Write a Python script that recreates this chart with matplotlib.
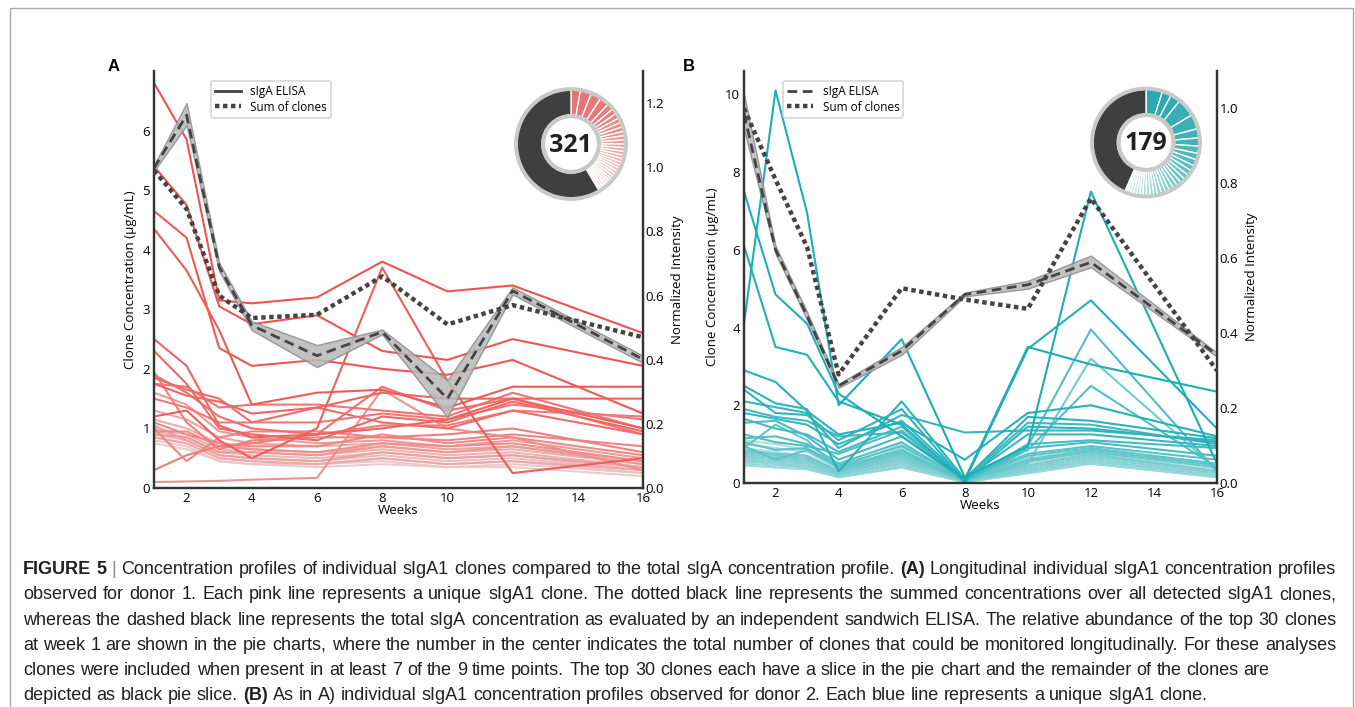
import numpy as np
import matplotlib
matplotlib.use('Agg')
import matplotlib.pyplot as plt
from matplotlib.lines import Line2D
from matplotlib.patches import Circle, Rectangle
from matplotlib.colors import to_rgb
from matplotlib.transforms import IdentityTransform

plt.rcParams['font.family'] = ['Open Sans', 'DejaVu Sans']

weeks = [1, 2, 3, 4, 6, 8, 10, 12, 16]

# ---- donor 1 (A) ----
elisa_a = [5.37, 6.26, 3.71, 2.73, 2.22, 2.62, 1.50, 3.31, 2.16]
elisa_a_lo = [5.32, 6.09, 3.64, 2.65, 2.03, 2.58, 1.19, 3.25, 2.10]
elisa_a_hi = [5.42, 6.46, 3.78, 2.80, 2.40, 2.66, 1.81, 3.37, 2.22]
sum_a = [0.99, 0.87, 0.60, 0.53, 0.54, 0.66, 0.51, 0.57, 0.47]   # normalized intensity
clones_a = [
    [6.8, 5.85, 3.15, 3.1, 3.2, 3.8, 3.3, 3.4, 2.6],
    [5.4, 4.75, 3.05, 2.75, 2.9, 2.3, 2.15, 2.5, 2.05],
    [4.65, 4.2, 2.35, 2.05, 2.15, 2.0, 1.9, 2.15, 1.25],
    [4.35, 3.65, 2.65, 1.4, 1.6, 1.65, 1.35, 1.7, 1.7],
    [1.2, 1.3, 0.8, 0.5, 1.0, 3.7, 1.8, 0.25, 0.5],
    [2.5, 2.05, 1.05, 0.85, 0.9, 1.0, 1.15, 1.5, 1.0],
    [1.75, 1.55, 1.45, 1.25, 1.35, 1.6, 1.5, 1.5, 1.5],
    [2.3, 1.75, 1.0, 0.9, 0.8, 1.2, 1.1, 1.45, 0.95],
    [1.85, 1.65, 1.5, 1.1, 1.35, 1.1, 1.0, 1.3, 0.9],
    [1.9, 1.6, 1.2, 1.0, 0.9, 1.7, 1.3, 1.5, 0.9],
    [1.75, 1.7, 1.35, 1.4, 1.4, 1.3, 1.2, 1.6, 1.0],
    [1.5, 1.35, 1.1, 1.1, 1.1, 1.25, 1.15, 1.4, 1.15],
    [0.3, 0.55, 0.7, 0.75, 0.9, 1.05, 1.05, 1.3, 1.2],
    [1.95, 1.1, 0.65, 0.8, 0.85, 0.85, 0.9, 1.0, 0.6],
    [1.0, 0.45, 0.85, 0.95, 0.95, 0.85, 0.8, 0.9, 0.7],
    [1.1, 0.9, 0.75, 0.7, 0.7, 0.9, 0.75, 0.85, 0.55],
    [0.95, 0.95, 0.7, 0.65, 0.6, 0.75, 0.7, 0.75, 0.45],
    [0.1, 0.11, 0.12, 0.14, 0.17, 1.65, 1.0, 0.85, 0.3],
    [0.9, 0.85, 0.6, 0.6, 0.55, 0.7, 0.6, 0.7, 0.4],
    [1.6, 1.4, 0.95, 0.85, 0.75, 0.8, 0.7, 0.8, 0.5],
    [1.05, 0.8, 0.55, 0.5, 0.45, 0.6, 0.5, 0.55, 0.35],
    [1.3, 1.15, 0.85, 0.75, 0.7, 0.75, 0.65, 0.7, 0.45],
    [0.85, 0.75, 0.5, 0.45, 0.4, 0.5, 0.4, 0.45, 0.3],
    [1.15, 1.0, 0.75, 0.65, 0.6, 0.7, 0.6, 0.65, 0.4],
    [1.0, 0.9, 0.65, 0.6, 0.55, 0.65, 0.55, 0.6, 0.35],
    [0.95, 0.85, 0.6, 0.55, 0.5, 0.6, 0.5, 0.55, 0.3],
    [0.9, 0.8, 0.55, 0.5, 0.45, 0.55, 0.45, 0.5, 0.3],
    [0.85, 0.75, 0.5, 0.45, 0.4, 0.5, 0.4, 0.45, 0.25],
    [0.8, 0.7, 0.45, 0.4, 0.4, 0.45, 0.35, 0.4, 0.25],
    [0.75, 0.65, 0.45, 0.4, 0.35, 0.4, 0.35, 0.35, 0.2],
]
pie_a = [10, 12, 11, 10, 7, 6, 5.5, 5, 5, 5, 4.5, 4.5, 4.5, 4, 4, 4, 4, 4,
         3.5, 3.5, 3.5, 3.5, 3.5, 3.5, 3, 3, 3, 3, 3, 3]
pie_a_rest = 211
n_clones_a = '321'

# ---- donor 2 (B) ----
elisa_b = [9.5, 6.0, 4.3, 2.5, 3.4, 4.85, 5.1, 5.68, 3.3]
elisa_b_lo = [9.1, 5.9, 4.2, 2.45, 3.3, 4.8, 5.0, 5.55, 3.25]
elisa_b_hi = [10.0, 6.1, 4.4, 2.55, 3.5, 4.9, 5.2, 5.85, 3.35]
sum_b = [1.0, 0.81, 0.63, 0.29, 0.52, 0.49, 0.465, 0.76, 0.30]
clones_b = [
    [4.1, 10.1, 6.95, 2.0, 3.7, 0.15, 0.95, 7.5, 0.5],
    [7.5, 4.85, 4.1, 2.3, 1.2, 0.1, 3.5, 3.05, 2.35],
    [6.1, 3.5, 3.3, 2.1, 1.5, 0.05, 3.45, 4.7, 1.4],
    [2.9, 2.6, 1.85, 1.25, 1.55, 0.6, 1.8, 2.0, 1.2],
    [2.5, 2.05, 1.9, 0.3, 2.1, 0.1, 1.7, 1.6, 1.15],
    [2.4, 1.8, 1.75, 1.1, 1.9, 0.05, 1.45, 1.4, 1.05],
    [2.1, 1.95, 1.8, 0.9, 1.75, 1.3, 1.35, 1.35, 1.1],
    [1.8, 1.65, 1.5, 1.0, 1.6, 0.1, 1.25, 1.25, 0.95],
    [1.9, 1.7, 1.6, 1.2, 1.3, 0.1, 1.55, 1.5, 1.0],
    [1.65, 1.4, 1.25, 0.8, 1.45, 0.05, 1.0, 1.1, 0.9],
    [1.55, 1.6, 1.2, 0.6, 1.2, 0.05, 0.9, 1.05, 0.7],
    [1.25, 1.05, 0.95, 0.75, 1.35, 0.1, 0.95, 3.95, 0.3],
    [1.15, 1.2, 1.0, 0.5, 1.05, 0.05, 0.85, 2.5, 0.4],
    [1.05, 0.85, 0.9, 0.45, 0.95, 0.1, 0.75, 0.95, 0.6],
    [0.95, 0.6, 0.85, 0.4, 0.85, 0.05, 0.7, 0.9, 0.5],
    [0.9, 1.5, 1.1, 0.35, 0.8, 0.05, 0.6, 0.85, 0.45],
    [0.85, 0.75, 0.7, 0.3, 0.75, 0.05, 0.55, 0.8, 0.4],
    [0.8, 0.7, 0.65, 0.3, 0.7, 0.05, 0.5, 3.2, 0.35],
    [0.75, 0.65, 0.6, 0.25, 0.65, 0.05, 0.45, 0.75, 0.3],
    [0.7, 0.6, 0.55, 0.25, 0.6, 0.04, 0.4, 0.7, 0.3],
    [0.65, 0.55, 0.5, 0.2, 0.55, 0.04, 0.35, 0.65, 0.25],
    [0.6, 0.5, 0.45, 0.2, 0.5, 0.03, 0.3, 0.6, 0.2],
    [0.55, 0.5, 0.4, 0.15, 0.45, 0.03, 0.3, 0.55, 0.2],
    [0.5, 0.45, 0.4, 0.15, 0.4, 0.03, 0.25, 0.5, 0.15],
    [0.45, 0.4, 0.35, 0.15, 0.4, 0.02, 0.25, 0.5, 0.15],
    [1.0, 0.9, 0.8, 0.35, 0.9, 0.05, 0.6, 0.8, 0.45],
    [1.1, 1.0, 0.85, 0.4, 1.0, 0.05, 0.65, 0.85, 0.5],
    [0.9, 0.8, 0.7, 0.3, 0.8, 0.04, 0.5, 0.75, 0.35],
]
pie_b = [18, 10, 11, 20, 16, 10, 9, 8, 7, 7, 6, 6, 5.5, 5.5, 5, 5, 5,
         4.5, 4.5, 4.5, 4, 4, 4, 4, 3.5, 3.5, 3.5, 3.5, 3, 3]
pie_b_rest = 156.5
n_clones_b = '179'

# words starting with * are bold
caption = [
    "*FIGURE *5 | Concentration profiles of individual sIgA1 clones compared to the total sIgA concentration profile. *(A) Longitudinal individual sIgA1 concentration profiles",
    "observed for donor 1. Each pink line represents a unique sIgA1 clone. The dotted black line represents the summed concentrations over all detected sIgA1 clones,",
    "whereas the dashed black line represents the total sIgA concentration as evaluated by an independent sandwich ELISA. The relative abundance of the top 30 clones",
    "at week 1 are shown in the pie charts, where the number in the center indicates the total number of clones that could be monitored longitudinally. For these analyses",
    "clones were included when present in at least 7 of the 9 time points. The top 30 clones each have a slice in the pie chart and the remainder of the clones are",
    "depicted as black pie slice. *(B) As in A) individual sIgA1 concentration profiles observed for donor 2. Each blue line represents a unique sIgA1 clone.",
]

W, H = 1355, 707
fig = plt.figure(figsize=(W / 100, H / 100), dpi=100)
fig.patch.set_facecolor('white')
DARK = '#444444'


def px_rect(left, top, right, bottom):
    return [left / W, 1 - bottom / H, (right - left) / W, (bottom - top) / H]


def shade(base, light, n, amount):
    b = np.array(to_rgb(base))
    l = np.array(to_rgb(light))
    t = np.linspace(0, 1, n) ** 1.2 * amount
    return [tuple(b * (1 - k) + l * k) for k in t]


def panel(rect, letter, letter_x, clones, base, light, elisa, lo, hi, summed,
          ylim_l, yticks_l, ylim_r, yticks_r, elisa_ls, leg_x):
    ax = fig.add_axes(rect)
    cols = shade(base, light, len(clones), 0.85)
    for i in range(len(clones) - 1, -1, -1):
        ax.plot(weeks, clones[i], color=cols[i], lw=1.5, zorder=2)
    ax.fill_between(weeks, lo, hi, color='#b8b8b8', alpha=0.85,
                    edgecolor='#8c8c8c', lw=1.0, zorder=3)
    ax.plot(weeks, elisa, color=DARK, lw=2.0, ls=(0, (3.5, 2)), zorder=4)
    ax.set_xlim(1, 16)
    ax.set_ylim(*ylim_l)
    ax.set_xticks(range(2, 17, 2))
    ax.set_yticks(yticks_l)
    ax.set_xlabel('Weeks', fontsize=9.5, labelpad=-1)
    ax.set_ylabel('Clone Concentration (\u00b5g/mL)', fontsize=9.5, labelpad=4)
    ax.tick_params(length=0, labelsize=9.5, pad=3)

    ax2 = ax.twinx()
    ax2.plot(weeks, summed, color=DARK, lw=3.2, ls=(0, (1, 0.8)), zorder=5)
    ax2.set_ylim(*ylim_r)
    ax2.set_yticks(yticks_r)
    ax2.set_yticklabels(['%.1f' % v for v in yticks_r])
    ax2.set_ylabel('Normalized Intensity', fontsize=9.5, labelpad=5)
    ax2.tick_params(length=0, labelsize=9.5, pad=2)
    for a in (ax, ax2):
        a.spines['top'].set_visible(False)
        for s in ('left', 'right', 'bottom'):
            a.spines[s].set_color('#333333')
            a.spines[s].set_linewidth(1.6)

    handles = [Line2D([], [], color=DARK, lw=2.0, ls=elisa_ls),
               Line2D([], [], color=DARK, lw=3.2, ls=(0, (1, 0.8)))]
    leg = ax2.legend(handles, ['sIgA ELISA', 'Sum of clones'], loc='upper left',
                     bbox_to_anchor=(leg_x, 0.99), fontsize=8.5, frameon=True,
                     handlelength=2.2, borderpad=0.35, labelspacing=0.2,
                     handletextpad=0.8, fancybox=True)
    leg.get_frame().set_edgecolor('#cccccc')
    leg.get_frame().set_linewidth(1.2)

    fig.text(letter_x / W, 1 - 71 / H, letter, fontsize=12, fontweight='bold',
             family='Liberation Sans', va='baseline')
    return ax


def donut(rect, vals, rest, base, light, label):
    axp = fig.add_axes(rect)
    cols = shade(base, light, len(vals), 0.95) + ['#3f3f3f']
    axp.pie(vals + [rest], colors=cols, startangle=90, counterclock=False,
            radius=0.97, wedgeprops=dict(width=0.45, edgecolor='white', linewidth=1.0))
    axp.add_patch(Circle((0, 0), 0.985, fill=False, ec='#c9c9c9', lw=2.8))
    axp.add_patch(Circle((0, 0), 0.50, fill=False, ec='#c9c9c9', lw=3.0))
    axp.text(0, -0.02, label, ha='center', va='center', fontsize=18,
             fontweight='bold', color='#222222')
    axp.set_xlim(-1.04, 1.04)
    axp.set_ylim(-1.04, 1.04)
    axp.set_aspect('equal')
    axp.axis('off')


panel(px_rect(154, 71, 643, 488), 'A', 108, clones_a, '#ef5350', '#e8e2e2',
      elisa_a, elisa_a_lo, elisa_a_hi, sum_a, (0, 7), range(0, 7),
      (0, 1.3), [0.0, 0.2, 0.4, 0.6, 0.8, 1.0, 1.2], '-', 0.104)
panel(px_rect(744, 71, 1217, 483), 'B', 683, clones_b, '#1aaeb5', '#cfe9ea',
      elisa_b, elisa_b_lo, elisa_b_hi, sum_b, (0, 10.6), range(0, 11, 2),
      (0, 1.1), [0.0, 0.2, 0.4, 0.6, 0.8, 1.0], (0, (3.5, 2)), 0.07)

donut(px_rect(513, 86, 629, 202), pie_a, pie_a_rest, '#e57373', '#fbeaea', n_clones_a)
donut(px_rect(1089, 85, 1203, 200), pie_b, pie_b_rest, '#2aa9ae', '#e6f5f5', n_clones_b)

# frame around the figure
fig.patches.append(Rectangle((9.5, -20), 1343, H - 8 + 20, transform=IdentityTransform(),
                             fill=False, ec='#aaaaaa', lw=1.0))

# caption, justified like the journal layout
renderer = fig.canvas.get_renderer()
cap_size = 13.0
cap_left, cap_right = 23, 1336
baselines = [574, 599.3, 624.6, 649.9, 675.2, 700.5]
for li, line in enumerate(caption):
    objs = []
    for w in line.split():
        bold = w.startswith('*')
        w = w.lstrip('*')
        col = '#8a8a8a' if w == '|' else '#231f20'
        t = fig.text(0, 0, w, fontsize=cap_size, family='Liberation Sans',
                     fontweight='bold' if bold else 'normal', color=col,
                     transform=IdentityTransform(), va='baseline')
        objs.append(t)
    widths = [t.get_window_extent(renderer).width for t in objs]
    gap = cap_size * 100 / 72 * 0.278
    if li < 4:
        gap = (cap_right - cap_left - sum(widths)) / (len(objs) - 1)
    x = cap_left
    for t, w in zip(objs, widths):
        t.set_position((x, H - baselines[li]))
        x += w + gap

fig.savefig('out.png', dpi=100)
